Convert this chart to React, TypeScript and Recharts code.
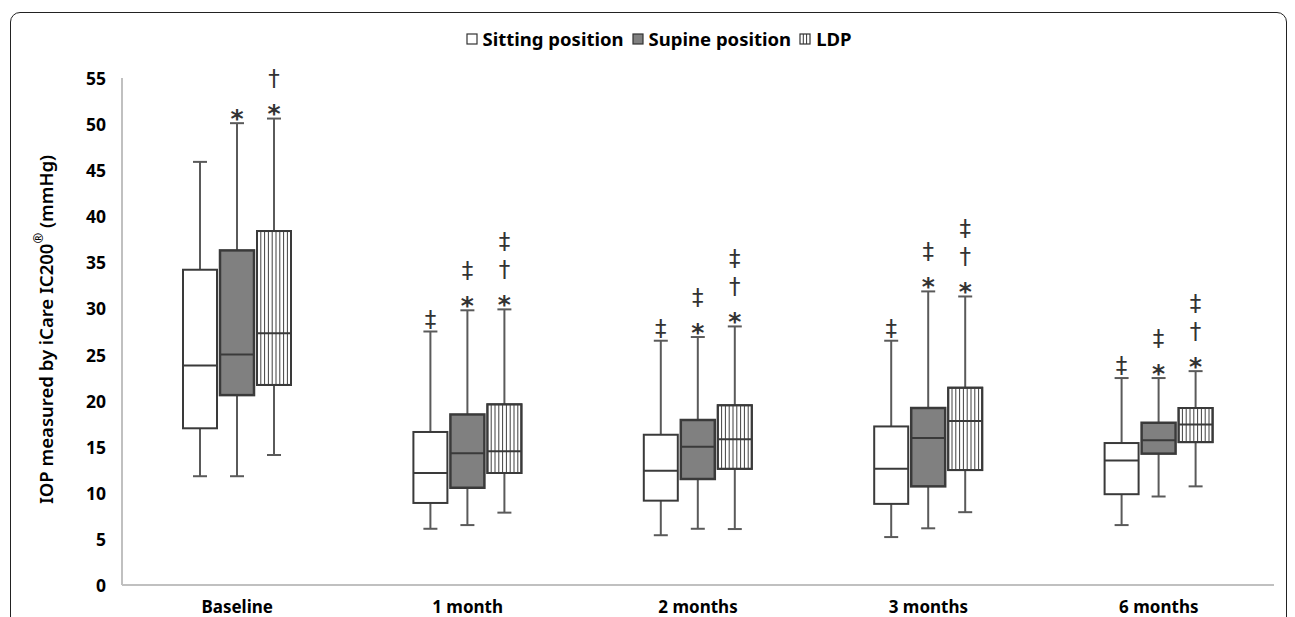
import React from "react";
import { BarChart, Bar, XAxis, YAxis } from "recharts";

const categories = ["Baseline", "1 month", "2 months", "3 months", "6 months"];
const yTicks = [0, 5, 10, 15, 20, 25, 30, 35, 40, 45, 50, 55];

const sittingMin = [11.8, 6.1, 5.4, 5.2, 6.5];
const sittingQ1 = [17.0, 8.9, 9.15, 8.8, 9.85];
const sittingMedian = [23.8, 12.15, 12.4, 12.6, 13.5];
const sittingQ3 = [34.2, 16.6, 16.3, 17.2, 15.4];
const sittingMax = [45.9, 27.5, 26.5, 26.5, 22.45];

const supineMin = [11.8, 6.5, 6.1, 6.15, 9.6];
const supineQ1 = [20.6, 10.55, 11.5, 10.7, 14.25];
const supineMedian = [25.0, 14.3, 15.0, 15.95, 15.7];
const supineQ3 = [36.3, 18.5, 17.9, 19.2, 17.6];
const supineMax = [50.1, 29.8, 26.9, 31.85, 22.45];

const ldpMin = [14.1, 7.85, 6.07, 7.9, 10.7];
const ldpQ1 = [21.7, 12.15, 12.6, 12.47, 15.5];
const ldpMedian = [27.3, 14.5, 15.8, 17.8, 17.4];
const ldpQ3 = [38.4, 19.6, 19.5, 21.4, 19.2];
const ldpMax = [50.6, 29.9, 28.05, 31.3, 23.2];

const sittingMarks = [[], ["‡"], ["‡"], ["‡"], ["‡"]];
const supineMarks = [["*"], ["*", "‡"], ["*", "‡"], ["*", "‡"], ["*", "‡"]];
const ldpMarks = [["*", "†"], ["*", "†", "‡"], ["*", "†", "‡"], ["*", "†", "‡"], ["*", "†", "‡"]];

const data = categories.map((name, i) => ({
  name,
  sit: { min: sittingMin[i], q1: sittingQ1[i], med: sittingMedian[i], q3: sittingQ3[i], max: sittingMax[i], marks: sittingMarks[i] },
  sup: { min: supineMin[i], q1: supineQ1[i], med: supineMedian[i], q3: supineQ3[i], max: supineMax[i], marks: supineMarks[i] },
  ldp: { min: ldpMin[i], q1: ldpQ1[i], med: ldpMedian[i], q3: ldpQ3[i], max: ldpMax[i], marks: ldpMarks[i] },
  sitMax: sittingMax[i],
  supMax: supineMax[i],
  ldpMax: ldpMax[i],
}));

const FONT = "'Noto Sans', 'Open Sans', sans-serif";
const WHISKER = "#5a5a5a";
const EDGE = "#3a3a3a";

function makeShape(series: "sit" | "sup" | "ldp") {
  return (props: any) => {
    const { x, y, width, height, payload } = props;
    const s = payload[series];
    const base = y + height;
    const k = height / s.max;
    const py = (v: number) => base - v * k;
    const cx = x + width / 2;
    const capW = 14;
    const top = py(s.q3);
    const bot = py(s.q1);
    const stripes: any[] = [];
    if (series === "ldp") {
      const step = 3.8;
      for (let xx = x + step; xx < x + width - 1; xx += step) {
        stripes.push(<line key={xx} x1={xx} x2={xx} y1={top} y2={bot} stroke="#404040" strokeWidth={1} />);
      }
    }
    return (
      <g>
        <line x1={cx} x2={cx} y1={py(s.max)} y2={top} stroke={WHISKER} strokeWidth={2} />
        <line x1={cx} x2={cx} y1={bot} y2={py(s.min)} stroke={WHISKER} strokeWidth={2} />
        <line x1={cx - capW / 2} x2={cx + capW / 2} y1={py(s.max)} y2={py(s.max)} stroke={WHISKER} strokeWidth={2} />
        <line x1={cx - capW / 2} x2={cx + capW / 2} y1={py(s.min)} y2={py(s.min)} stroke={WHISKER} strokeWidth={2} />
        <rect x={x} y={top} width={width} height={bot - top} fill={series === "sup" ? "#808080" : "#ffffff"} stroke={EDGE} strokeWidth={series === "sup" ? 2.5 : 2} />
        {stripes}
        {series === "ldp" && <rect x={x} y={top} width={width} height={bot - top} fill="none" stroke={EDGE} strokeWidth={2} />}
        <line x1={x} x2={x + width} y1={py(s.med)} y2={py(s.med)} stroke={EDGE} strokeWidth={2} />
        {s.marks.map((m: string, i: number) => (
          <text
            key={i}
            x={cx}
            y={py(s.max) - 13 - 27.5 * i}
            textAnchor="middle"
            dominantBaseline="central"
            dy={m === "*" ? 8 : 0}
            fontFamily="'DejaVu Sans', sans-serif"
            fontWeight={m === "*" ? 700 : 400}
            fontSize={m === "*" ? 25 : 23}
            fill="#333"
          >
            {m}
          </text>
        ))}
      </g>
    );
  };
}

const YTick = (props: any) => {
  const { x, y, payload } = props;
  return (
    <text x={x - 8} y={y} textAnchor="end" dominantBaseline="central" fontFamily={FONT} fontWeight={700} fontSize={17.5} fill="#000">
      {payload.value}
    </text>
  );
};

const XTick = (props: any) => {
  const { x, y, payload } = props;
  return (
    <text x={x} y={y + 13} textAnchor="middle" dominantBaseline="central" fontFamily={FONT} fontWeight={700} fontSize={17} fill="#000">
      {payload.value}
    </text>
  );
};

const YLabel = (props: any) => {
  const vb = props.viewBox || { x: 0, y: 78, width: 122, height: 507 };
  const cx = 45;
  const cy = vb.y + vb.height / 2 - 2;
  return (
    <text x={cx} y={cy} transform={`rotate(-90 ${cx} ${cy})`} textAnchor="middle" dominantBaseline="central" fontFamily={FONT} fontWeight={600} fontSize={18.5} fill="#000">
      IOP measured by iCare IC200
      <tspan dy={-7} fontSize={13}>®</tspan>
      <tspan dy={7}> (mmHg)</tspan>
    </text>
  );
};

const LegendIcon = ({ kind }: { kind: string }) => (
  <svg width={12} height={12} style={{ marginRight: 5 }}>
    <rect x={1} y={1} width={10} height={10} fill={kind === "sup" ? "#808080" : "#fff"} stroke="#333" strokeWidth={1.2} />
    {kind === "ldp" && (
      <g stroke="#333" strokeWidth={1}>
        <line x1={4.3} x2={4.3} y1={1} y2={11} />
        <line x1={7.6} x2={7.6} y1={1} y2={11} />
      </g>
    )}
  </svg>
);

export default function App() {
  return (
    <div style={{ position: "absolute", left: 0, top: 0, width: 1295, height: 617, background: "#fff", overflow: "hidden" }}>
      <div
        style={{
          position: "absolute",
          left: 10,
          top: 12,
          width: 1277,
          height: 700,
          border: "1.5px solid #222",
          borderRadius: 10,
          boxSizing: "border-box",
        }}
      />
      <div
        style={{
          position: "absolute",
          left: 0,
          top: 26,
          width: 1295,
          display: "flex",
          justifyContent: "center",
          alignItems: "center",
          fontFamily: FONT,
          fontWeight: 700,
          fontSize: 18.5,
          color: "#000",
          paddingLeft: 22,
          boxSizing: "border-box",
        }}
      >
        <LegendIcon kind="sit" />
        <span style={{ marginRight: 8 }}>Sitting position</span>
        <LegendIcon kind="sup" />
        <span style={{ marginRight: 8 }}>Supine position</span>
        <LegendIcon kind="ldp" />
        <span>LDP</span>
      </div>
      <div style={{ position: "absolute", left: 0, top: 0 }}>
        <BarChart width={1295} height={617} data={data} margin={{ top: 78, right: 21, bottom: 2, left: 0 }} barSize={34} barGap={3}>
          <XAxis dataKey="name" height={30} tickLine={false} axisLine={{ stroke: "#c0c0c0", strokeWidth: 2 }} tick={<XTick />} interval={0} />
          <YAxis
            domain={[0, 55]}
            ticks={yTicks}
            width={122}
            tickLine={false}
            axisLine={{ stroke: "#c0c0c0", strokeWidth: 2 }}
            tick={<YTick />}
            interval={0}
            label={<YLabel />}
          />
          <Bar dataKey="sitMax" isAnimationActive={false} shape={makeShape("sit")} />
          <Bar dataKey="supMax" isAnimationActive={false} shape={makeShape("sup")} />
          <Bar dataKey="ldpMax" isAnimationActive={false} shape={makeShape("ldp")} />
        </BarChart>
      </div>
    </div>
  );
}
